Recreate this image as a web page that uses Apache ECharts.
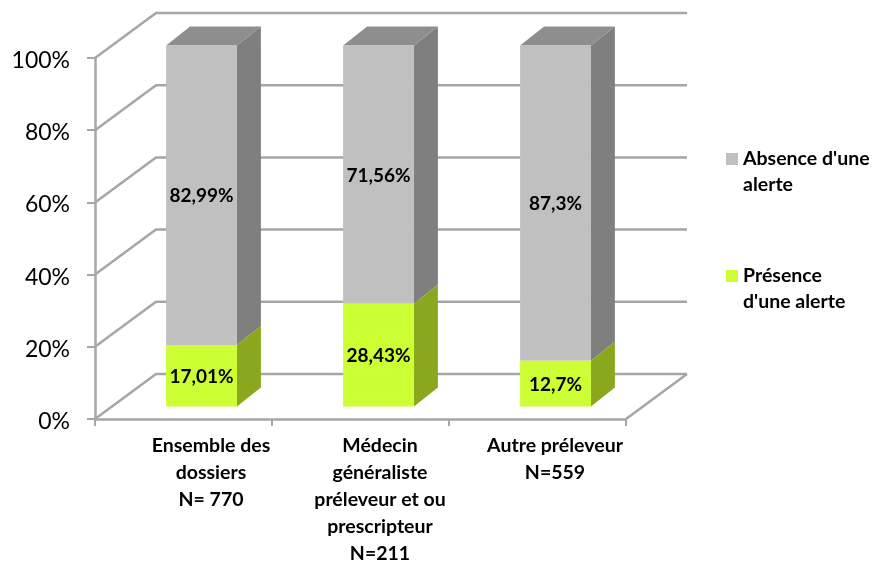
<!DOCTYPE html>
<html>
<head>
<meta charset="utf-8">
<style>
  html, body { margin: 0; padding: 0; background: #fff; }
  #chart { width: 873px; height: 563px; }
</style>
</head>
<body>
<div id="chart"></div>
<script src="https://cdn.jsdelivr.net/npm/echarts@6/dist/echarts.min.js"></script>
<script>
var categories = ['Ensemble des\ndossiers\nN= 770', 'Médecin\ngénéraliste\npréleveur et ou\nprescripteur\nN=211', 'Autre préleveur\nN=559']
var presence = [17.01, 28.43, 12.7]
var absence = [82.99, 71.56, 87.3]
var yTicks = [0, 20, 40, 60, 80, 100]

var FONT = 'Lato, Carlito, sans-serif'
var LINE = '#a6a6a6'
// decalage du mur du fond par rapport au plan avant
var WALL_DX = 61
var WALL_DY = -45
// position des barres dans la profondeur
var BAR_DX = 18
var BAR_DY = -12.5
var BAR_DEPTH_X = 24
var BAR_DEPTH_Y = -19
// decalage des libelles de l'axe x, un par categorie
var LABEL_PAD = [55, 39, 35]

function fmt (v) {
  return String(v).replace('.', ',') + '%'
}

function renderWall (params, api) {
  var cs = params.coordSys
  var y = api.coord([0, api.value(0)])[1]
  var x0 = cs.x
  var x1 = cs.x + cs.width
  return {
    type: 'polyline',
    silent: true,
    shape: { points: [[x0, y], [x0 + WALL_DX, y + WALL_DY], [x1 + WALL_DX, y + WALL_DY]] },
    style: { stroke: LINE, lineWidth: 2.5, fill: null }
  }
}

// cote droit du plancher
function renderFloor (params, api) {
  var cs = params.coordSys
  var x1 = cs.x + cs.width
  var y = api.coord([0, 0])[1]
  return {
    type: 'polyline',
    silent: true,
    shape: { points: [[x1, y], [x1 + WALL_DX, y + WALL_DY]] },
    style: { stroke: LINE, lineWidth: 2.5, fill: null }
  }
}

function makeBar (colors, withTop) {
  return function (params, api) {
    var idx = api.value(0)
    var from = api.value(1)
    var to = api.value(2)
    var w = api.size([1, 0])[0] * 0.4
    var cx = api.coord([idx, 0])[0] + BAR_DX
    var yb = api.coord([idx, from])[1] + BAR_DY
    var yt = api.coord([idx, to])[1] + BAR_DY
    var xl = cx - w / 2
    var xr = cx + w / 2
    var children = [
      {
        type: 'polygon',
        shape: { points: [[xr, yb], [xr + BAR_DEPTH_X, yb + BAR_DEPTH_Y], [xr + BAR_DEPTH_X, yt + BAR_DEPTH_Y], [xr, yt]] },
        style: { fill: colors.side }
      },
      {
        type: 'rect',
        shape: { x: xl, y: yt, width: w, height: yb - yt },
        style: { fill: colors.front }
      },
      {
        type: 'text',
        style: {
          x: cx,
          y: (yb + yt) / 2 + 1,
          text: fmt(api.value(3)),
          align: 'center',
          verticalAlign: 'middle',
          font: 'bold 19px ' + FONT,
          fill: '#000'
        }
      }
    ]
    if (withTop) {
      children.splice(1, 0, {
        type: 'polygon',
        shape: { points: [[xl, yt], [xl + BAR_DEPTH_X, yt + BAR_DEPTH_Y], [xr + BAR_DEPTH_X, yt + BAR_DEPTH_Y], [xr, yt]] },
        style: { fill: colors.top }
      })
    }
    return { type: 'group', children: children }
  }
}

var presenceData = presence.map(function (v, i) { return [i, 0, v, v] })
var absenceData = absence.map(function (v, i) { return [i, presence[i], presence[i] + v, v] })

var labelRich = {}
LABEL_PAD.forEach(function (p, i) {
  labelRich['c' + i] = {
    padding: [0, 0, 0, p],
    color: '#000',
    fontFamily: FONT,
    fontWeight: 'bold',
    fontSize: 19.5,
    lineHeight: 27
  }
})

var chart = echarts.init(document.getElementById('chart'))
chart.setOption({
  animation: false,
  backgroundColor: '#fff',
  grid: { left: 95, top: 58, width: 531, height: 361, outerBoundsMode: 'none' },
  legend: {
    orient: 'vertical',
    left: 726,
    top: 120,
    padding: 0,
    itemWidth: 12,
    itemHeight: 12,
    itemGap: 39,
    icon: 'rect',
    selectedMode: false,
    data: ["Absence d'une\nalerte", "Présence\nd'une alerte"],
    // ligne vide pour garder le carre au niveau de la premiere ligne
    formatter: function (name) { return ' \n' + name },
    textStyle: { fontFamily: FONT, fontWeight: 'bold', fontSize: 19.5, color: '#000', lineHeight: 26 }
  },
  xAxis: {
    type: 'category',
    data: categories,
    axisLine: { lineStyle: { color: LINE, width: 2.5 } },
    axisTick: { show: true, length: 7, lineStyle: { color: LINE, width: 2 } },
    splitLine: { show: false },
    axisLabel: {
      interval: 0,
      margin: 13,
      rich: labelRich,
      formatter: function (value, idx) {
        return value.split('\n').map(function (l) { return '{c' + idx + '|' + l + '}' }).join('\n')
      }
    }
  },
  yAxis: {
    type: 'value',
    min: 0,
    max: 100,
    interval: 20,
    axisLine: { show: true, lineStyle: { color: LINE, width: 2.5 } },
    axisTick: { show: true, length: 8, lineStyle: { color: LINE, width: 2 } },
    splitLine: { show: false },
    axisLabel: {
      margin: 25,
      verticalAlign: 'top',
      lineHeight: 5,
      color: '#000',
      fontFamily: FONT,
      fontSize: 23,
      formatter: '{value}%'
    }
  },
  series: [
    {
      type: 'custom',
      name: 'murs',
      z: 1,
      renderItem: renderWall,
      encode: { y: 0 },
      data: yTicks.map(function (v) { return [v] })
    },
    {
      type: 'custom',
      name: 'plancher',
      z: 1,
      renderItem: renderFloor,
      data: [[0]]
    },
    {
      type: 'custom',
      name: "Présence\nd'une alerte",
      z: 3,
      itemStyle: { color: '#ccff33' },
      renderItem: makeBar({ front: '#ccff33', side: '#8aa81e', top: '#8aa81e' }, false),
      encode: { x: 0, y: [1, 2] },
      data: presenceData
    },
    {
      type: 'custom',
      name: "Absence d'une\nalerte",
      z: 2,
      itemStyle: { color: '#c0c0c0' },
      renderItem: makeBar({ front: '#c0c0c0', side: '#7f7f7f', top: '#8e8e8e' }, true),
      encode: { x: 0, y: [1, 2] },
      data: absenceData
    }
  ]
})
</script>
</body>
</html>
